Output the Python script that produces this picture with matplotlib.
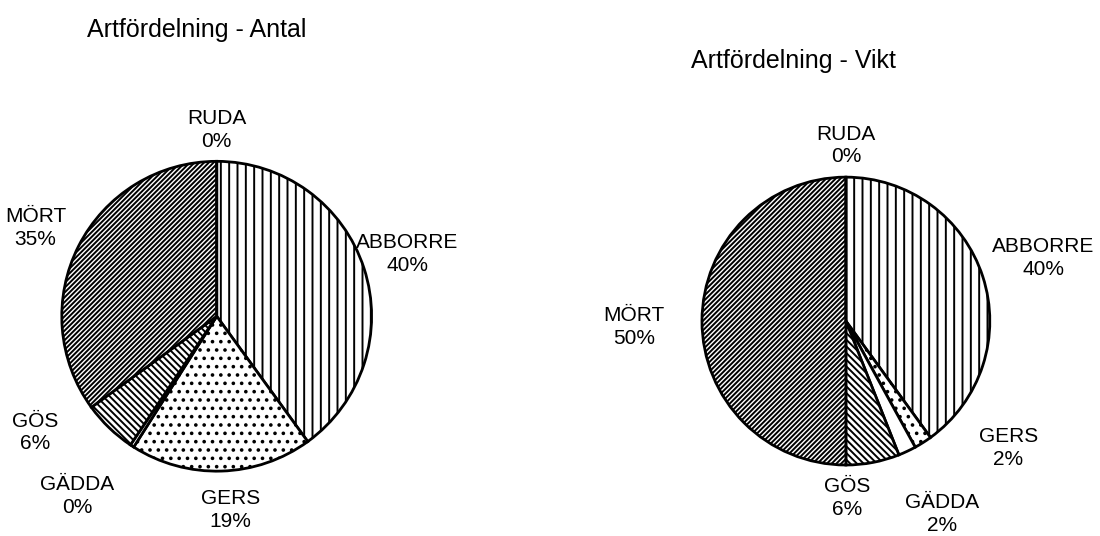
import matplotlib.pyplot as plt

plt.rcParams['font.family'] = ['Liberation Sans', 'DejaVu Sans']
plt.rcParams['hatch.linewidth'] = 1.4

species = ['ABBORRE', 'GERS', 'GÄDDA', 'GÖS', 'MÖRT', 'RUDA']
antal_pct = [40, 19, 0.4, 5.6, 35, 0.0]
vikt_pct = [40, 2, 2, 6, 50, 0.0]
antal_lbl = ['40%', '19%', '0%', '6%', '35%', '0%']
vikt_lbl = ['40%', '2%', '2%', '6%', '50%', '0%']
hatches = ['||', '..', '', '\\\\\\\\\\', '///////', '']

# label placement (in pie-radius units), hand tuned like the Excel layout
antal_pos = [(1.23, 0.40), (0.09, -1.25), (-0.90, -1.16), (-1.17, -0.75), (-1.17, 0.57), (0.0, 1.20)]
vikt_pos = [(1.37, 0.44), (1.13, -0.88), (0.67, -1.34), (0.01, -1.23), (-1.47, -0.04), (0.0, 1.22)]

fig = plt.figure(figsize=(11, 5.36), dpi=100)


def draw(rect, vals, lbls, pos, title, tpos):
    ax = fig.add_axes(rect)
    wedges, _ = ax.pie(vals, startangle=90, counterclock=False, radius=1,
                       colors=['white'] * len(vals),
                       wedgeprops=dict(edgecolor='black', linewidth=2))
    for w, h in zip(wedges, hatches):
        w.set_hatch(h)
    for name, l, (x, y) in zip(species, lbls, pos):
        ax.text(x, y, f'{name}\n{l}', ha='center', va='center', fontsize=15,
                linespacing=1.25, clip_on=False)
    ax.set_xlim(-1, 1)
    ax.set_ylim(-1, 1)
    ax.set_aspect('equal')
    fig.text(tpos[0], tpos[1], title, fontsize=18, ha='left', va='center')


draw([0.197 - 0.141, 0.410 - 0.289, 0.282, 0.578], antal_pct, antal_lbl, antal_pos,
     'Artfördelning - Antal', (87 / 1100, 1 - 30 / 536))
draw([0.769 - 0.131, 0.401 - 0.2685, 0.262, 0.537], vikt_pct, vikt_lbl, vikt_pos,
     'Artfördelning - Vikt', (691 / 1100, 1 - 61 / 536))

fig.savefig('out.png', dpi=100)
